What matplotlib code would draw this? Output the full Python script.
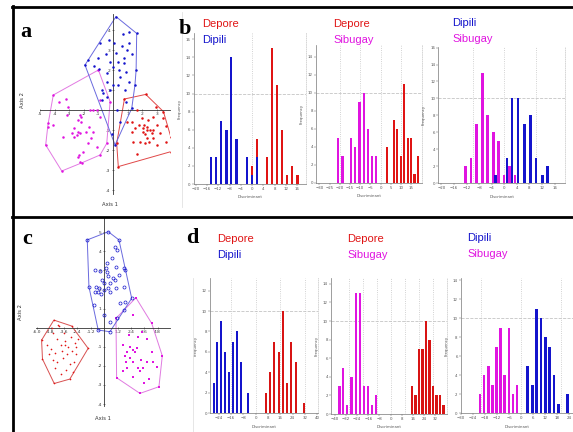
import matplotlib
matplotlib.use('Agg')
import matplotlib.pyplot as plt
from matplotlib.lines import Line2D

W, H = 573, 432

# ---------------- panel a : canonical scores ----------------
a_dipili = [(0.2, 4.67), (1.62, 3.83), (-1.92, 2.25), (0.14, -1.75), (1.58, 2.0), (1.5, 1.25),
            (-0.89, 3.33), (0.09, 3.33), (1.12, 3.33), (0.94, 3.0), (0.23, 2.83), (0.78, 2.58),
            (-1.0, 2.58), (-1.69, 2.5), (-0.2, 2.42), (0.36, 2.42), (0.78, 2.33), (0.02, 2.17),
            (0.41, 2.0), (0.87, 1.92), (-0.94, 2.03), (-0.43, 1.83), (0.48, 1.67), (0.02, 1.25),
            (0.32, 1.25), (-0.39, 1.42), (-0.77, 1.0), (-0.2, 1.0), (0.82, 1.0), (-0.43, 0.67),
            (-0.66, 0.83), (0.25, 0.0), (1.28, 0.08), (-0.77, 0.5), (0.7, 3.8), (-0.3, 3.5),
            (1.3, 2.8), (0.6, 3.2), (-0.5, 2.8), (1.1, 1.4), (0.9, 0.4), (-0.1, -1.2),
            (1.1, 3.9), (-1.3, 2.2), (0.5, -0.6)]
a_depore = [(0.78, 0.55), (2.24, 0.78), (2.95, 0.13), (3.45, -0.08), (3.95, -1.33), (3.97, -2.08),
            (0.36, -2.83), (0.25, -1.67), (1.62, 0.0), (0.94, -0.58), (1.96, -0.42), (2.12, -0.75),
            (2.3, -0.83), (1.78, -0.75), (2.53, -1.0), (2.76, -1.0), (2.99, -0.75), (3.63, -0.8),
            (3.45, -0.42), (2.07, -1.08), (1.5, -0.92), (1.28, -1.08), (1.85, -1.58), (2.19, -1.67),
            (2.46, -1.58), (2.76, -1.42), (3.22, -1.17), (3.6, -1.58), (2.99, -1.75), (1.67, -2.2),
            (2.3, -1.42), (1.39, -1.58), (2.65, -1.17), (2.03, -0.92), (2.42, -0.5), (2.76, -0.33),
            (1.28, -0.58), (2.2, -1.2), (2.35, -1.0)]
a_sibugay = [(-1.0, 2.0), (-0.2, 0.42), (-0.43, -1.67), (-0.89, -2.25), (-3.51, -3.05), (-4.61, -1.75),
             (-4.09, 0.75), (-3.68, 0.38), (-3.22, 0.55), (-3.06, 0.13), (-4.43, -0.63), (-4.47, -0.83),
             (-4.09, -0.75), (-1.58, 0.0), (-1.35, 0.0), (-2.26, -0.25), (-2.17, -0.33), (-2.4, -0.5),
             (-2.21, -0.58), (-2.67, -0.88), (-2.4, -1.08), (-2.26, -1.17), (-2.49, -1.25), (-1.85, -1.08),
             (-1.63, -0.83), (-1.35, -1.08), (-1.51, -1.42), (-1.74, -1.67), (-3.4, -1.33), (-2.67, -1.33),
             (-2.33, -2.25), (-2.42, -2.33), (-2.03, -2.08), (-2.26, -2.58), (-2.1, -2.63), (-1.08, 0.0),
             (-0.89, 0.5), (-0.89, -0.33), (-2.83, -1.17), (-3.17, -0.25), (-1.12, -1.83)]

# ---------------- panel c : canonical scores ----------------
c_dipili = [(0.37, 5.03), (-1.51, 4.6), (1.33, 4.6), (1.87, 3.02), (2.47, 1.54), (0.52, -0.21),
            (-0.53, -0.12), (-1.36, 2.15), (0.97, 4.25), (1.17, 4.07), (0.75, 3.63), (1.05, 3.2),
            (0.15, 3.15), (-0.82, 3.03), (-0.37, 2.97), (0.28, 2.9), (0.37, 2.72), (0.81, 2.58),
            (1.35, 2.76), (1.77, 3.11), (-0.23, 2.5), (-0.02, 2.33), (0.52, 2.33), (-0.73, 2.15),
            (-0.43, 2.1), (0.31, 2.06), (-0.02, 1.98), (-0.53, 1.89), (-0.32, 1.75), (0.52, 1.85),
            (1.05, 2.1), (1.8, 2.15), (1.41, 1.28), (1.86, 1.37), (-0.9, 1.2), (-0.02, 0.67),
            (0.52, 0.32), (-0.82, 1.89), (0.97, 2.5), (0.22, 3.37), (1.75, 0.94), (1.15, 0.5)]
c_depore = [(-4.5, 0.4), (-2.91, 0.09), (-1.43, -1.08), (-3.07, -2.69), (-4.47, -2.92), (-5.52, -1.64),
            (-5.6, -0.65), (-4.71, -0.03), (-4.11, 0.12), (-4.2, -0.6), (-3.9, -0.9), (-3.5, -0.7),
            (-3.0, -0.5), (-2.6, -0.8), (-2.3, -0.6), (-4.8, -1.1), (-4.4, -1.3), (-3.8, -1.2),
            (-3.3, -1.4), (-2.9, -1.2), (-2.5, -1.4), (-4.6, -1.7), (-4.2, -1.8), (-3.7, -1.6),
            (-3.1, -1.9), (-2.7, -1.8), (-4.4, -2.1), (-3.4, -2.2), (-2.8, -2.3), (-4.9, -1.4),
            (-3.6, -0.3), (-4.0, 0.1), (-2.5, -1.0), (-3.2, -1.0), (-4.6, -0.3), (-3.9, -2.4),
            (-3.5, -0.9), (-5.1, -0.9)]
c_sibugay = [(2.85, 1.57), (4.26, 0.23), (5.21, -1.47), (4.91, -3.09), (3.21, -3.44), (1.12, -2.62),
             (1.06, 0.49), (2.61, 0.67), (2.31, -1.0), (2.61, -1.15), (2.91, -1.07), (2.01, -1.25),
             (1.86, -1.48), (3.8, -0.6), (4.26, -1.25), (4.71, -2.08), (3.5, -2.13), (2.99, -2.13),
             (2.61, -1.77), (1.95, -1.77), (1.65, -2.28), (2.55, -2.57), (3.21, -2.28), (3.8, -1.77),
             (4.4, -1.77), (2.76, -1.28), (2.07, -2.1), (3.4, -0.2), (2.2, -0.4), (1.7, -0.9),
             (3.0, -0.5), (4.0, -2.7), (3.6, -2.9), (2.3, -1.6), (3.3, -1.7)]

# ---------------- histograms (bin centre, frequency) ----------------
b1_depore_x = [0.0, 1.8, 5.4, 7.2, 8.9, 10.8, 12.5, 14.3, 16.2]
b1_depore_n = [2, 5, 3, 15, 11, 6, 1, 2, 1]
b1_dipili_x = [-14.6, -12.8, -11.0, -9.1, -7.4, -5.5, -1.9, 0.0, 1.8]
b1_dipili_n = [3, 3, 7, 6, 14, 5, 3, 1, 3]

b2_sibugay_x = [-20.8, -18.7, -14.6, -12.5, -10.3, -8.2, -6.2, -4.1, -2.1]
b2_sibugay_n = [5, 3, 5, 4, 9, 10, 6, 3, 3]
b2_depore_x = [3.1, 6.6, 8.2, 10.0, 11.6, 13.4, 15.1, 16.7, 18.5]
b2_depore_n = [4, 7, 6, 3, 11, 5, 5, 1, 3]

b3_sibugay_x = [-12.3, -10.6, -8.8, -7.0, -5.3, -3.5, -1.9, -0.1, 1.6, 3.4]
b3_sibugay_n = [2, 3, 7, 13, 8, 6, 5, 1, 2, 1]
b3_dipili_x = [-2.75, 0.85, 2.5, 4.4, 6.4, 8.4, 10.1, 12.1, 13.8]
b3_dipili_n = [1, 3, 10, 10, 7, 8, 3, 1, 2]

d1_dipili_x = [-27.3, -24.9, -22.3, -19.9, -17.3, -14.9, -12.3, -9.7, -4.8]
d1_dipili_n = [3, 7, 9, 6, 4, 7, 8, 5, 2]
d1_depore_x = [6.5, 9.3, 12.1, 15.2, 17.7, 20.6, 23.2, 26.2, 31.6]
d1_depore_n = [2, 4, 7, 6, 10, 3, 7, 5, 1]

d2_sibugay_x = [-36.6, -34.0, -31.1, -28.0, -24.9, -22.1, -19.2, -16.2, -13.3, -10.5]
d2_sibugay_n = [3, 5, 1, 4, 13, 13, 3, 3, 1, 2]
d2_depore_x = [15.2, 17.8, 20.4, 22.8, 25.4, 27.8, 30.4, 32.8, 35.4, 37.8]
d2_depore_n = [3, 2, 7, 7, 10, 8, 3, 2, 2, 1]

d3_sibugay_x = [-20.5, -18.5, -16.3, -14.3, -12.3, -10.3, -8.3, -6.2, -4.2, -2.2]
d3_sibugay_n = [2, 4, 5, 3, 7, 9, 4, 9, 2, 3]
d3_dipili_x = [3.3, 5.7, 7.8, 10.0, 12.2, 14.3, 16.5, 18.7, 23.2]
d3_dipili_n = [5, 3, 11, 10, 8, 7, 4, 1, 2]

RED = '#e01414'
BLUE = '#1414cc'
MAG = '#e014e0'
TITLE_FONT = ['Liberation Sans', 'DejaVu Sans']

fig = plt.figure(figsize=(W / 100, H / 100), dpi=100)


def ax_px(left, top, right, bottom):
    return fig.add_axes([left / W, 1 - bottom / H, (right - left) / W, (bottom - top) / H])


def hull(pts):
    p = sorted(set(pts))
    def cross(o, a, b):
        return (a[0] - o[0]) * (b[1] - o[1]) - (a[1] - o[1]) * (b[0] - o[0])
    lo, up = [], []
    for q in p:
        while len(lo) >= 2 and cross(lo[-2], lo[-1], q) <= 0:
            lo.pop()
        lo.append(q)
    for q in reversed(p):
        while len(up) >= 2 and cross(up[-2], up[-1], q) <= 0:
            up.pop()
        up.append(q)
    h = lo[:-1] + up[:-1]
    return h + [h[0]]


def scatter_panel(rect, xlim, ylim, xticks, yticks, fmt, groups, lab2, lab1):
    ax = ax_px(*rect)
    for pts, col, lcol, mk in groups:
        h = hull(pts)
        ax.plot([q[0] for q in h], [q[1] for q in h], color=lcol, lw=0.7, zorder=2)
        ax.plot([q[0] for q in pts], [q[1] for q in pts], ls='none', zorder=3, **mk)
    ax.set_xlim(*xlim)
    ax.set_ylim(*ylim)
    for s in ['top', 'right']:
        ax.spines[s].set_visible(False)
    for s in ['left', 'bottom']:
        ax.spines[s].set_position(('data', 0))
        ax.spines[s].set_linewidth(0.6)
        ax.spines[s].set_color('#333333')
    ax.set_xticks(xticks)
    ax.set_xticklabels([fmt.format(t) for t in xticks])
    ax.set_yticks(yticks)
    ax.set_yticklabels(['{:d}'.format(t) for t in yticks])
    ax.tick_params(labelsize=3.2, length=1.5, width=0.4, pad=1, colors='#333333', direction='inout')
    ax.patch.set_alpha(0)
    fig.text(*lab2, 'Axis 2', fontsize=3.8, rotation=90, ha='center', va='center', color='#333333')
    fig.text(*lab1, 'Axis 1', fontsize=3.8, ha='center', va='center', color='#333333')
    return ax


def hist_panel(rect, xlim, ylim, xticks, yticks, gridx, series, wpx):
    ax = ax_px(*rect)
    ppu = (rect[2] - rect[0]) / (xlim[1] - xlim[0])
    for xs, ns, col in series:
        ax.bar(xs, ns, width=wpx / ppu, color=col, lw=0, zorder=3)
    ax.set_xlim(*xlim)
    ax.set_ylim(*ylim)
    for g in gridx:
        ax.axvline(g, color='#c4c4c4', ls=':', lw=0.6, zorder=0)
    ax.axhline(10, color='#c4c4c4', ls='--', lw=0.6, zorder=0)
    ax.spines['top'].set_visible(False)
    ax.spines['right'].set_color('#d0d0d0')
    ax.spines['right'].set_linestyle(':')
    ax.spines['right'].set_linewidth(0.6)
    for s in ['left', 'bottom']:
        ax.spines[s].set_color('#777777')
        ax.spines[s].set_linewidth(0.5)
    ax.set_xticks(xticks)
    ax.set_yticks(yticks)
    ax.tick_params(labelsize=2.8, length=1.2, width=0.3, pad=1, colors='#555555')
    ax.set_xlabel('Discriminant', fontsize=2.8, labelpad=3, color='#555555')
    ax.set_ylabel('Frequency', fontsize=2.8, labelpad=3, color='#555555')
    return ax


def titles(x, y, first, second):
    fig.text(x / W, 1 - y / H, first[0], color=first[1], fontsize=8, family=TITLE_FONT, va='center')
    fig.text(x / W, 1 - (y + 16) / H, second[0], color=second[1], fontsize=8, family=TITLE_FONT, va='center')


# frame lines
for (x0, y0, x1, y1) in [(12, 7, 573, 7), (12, 216.5, 573, 216.5), (12.5, 6, 12.5, 432)]:
    fig.add_artist(Line2D([x0 / W, x1 / W], [1 - y0 / H, 1 - y1 / H], color='black', lw=2.0))
for (x0, y0, x1, y1) in [(182, 12, 182, 207), (193, 278, 193, 432)]:
    fig.add_artist(Line2D([x0 / W, x1 / W], [1 - y0 / H, 1 - y1 / H], color='#e2e2e2', lw=0.6))

# panel a
scatter_panel((40, 14, 170, 194), (-5.0, 3.9), (-4.2, 4.8),
              [-5, -4, -3, -2, -1, 1, 2, 3], [-4, -3, -2, -1, 1, 2, 3, 4], '{:d}',
              [(a_sibugay, MAG, '#e27ae2', dict(marker='o', ms=1.8, color=MAG, mew=0)),
               (a_depore, RED, '#e04848', dict(marker='o', ms=1.8, color=RED, mew=0)),
               (a_dipili, BLUE, '#6a6ade', dict(marker='o', ms=1.8, color=BLUE, mew=0))],
              (22 / W, 1 - 100 / H), (110 / W, 1 - 204 / H))

# panel c
scatter_panel((36, 217, 170, 406), (-6.1, 5.9), (-4.1, 5.8),
              [-6.0, -4.8, -3.6, -2.4, -1.2, 1.2, 2.4, 3.6, 4.8], [-4, -3, -2, -1, 1, 2, 3, 4, 5], '{:.1f}',
              [(c_depore, RED, '#d85050', dict(marker='o', ms=1.2, color=RED, mew=0)),
               (c_sibugay, MAG, '#e07ae0', dict(marker='s', ms=1.8, color=MAG, mew=0)),
               (c_dipili, BLUE, '#6a6ade', dict(marker='o', ms=2.2, mfc='none', mec=BLUE, mew=0.5))],
              (20 / W, 1 - 312 / H), (103 / W, 1 - 419 / H))

# panel b histograms
hist_panel((193.5, 33, 306, 184), (-20.8, 19.2), (0, 16.7), range(-20, 17, 4), range(0, 17, 2),
           [0], [(b1_depore_x, b1_depore_n, RED), (b1_dipili_x, b1_dipili_n, BLUE)], 2.2)
hist_panel((316, 45, 422.3, 182.7), (-31.7, 20.5), (0, 15.3), range(-30, 16, 5), range(0, 15, 2),
           [-20, -10, 0, 10], [(b2_sibugay_x, b2_sibugay_n, MAG), (b2_depore_x, b2_depore_n, RED)], 2.3)
hist_panel((438.3, 46.7, 565, 183.3), (-21, 19.3), (0, 16.1), range(-20, 17, 4), range(0, 17, 2),
           [-10, 0, 10], [(b3_sibugay_x, b3_sibugay_n, MAG), (b3_dipili_x, b3_dipili_n, BLUE)], 2.6)

# panel d histograms
hist_panel((210, 278.3, 318.3, 413.3), (-29.7, 40.7), (0, 13.2), range(-24, 41, 8), range(0, 13, 2),
           [-16, 0, 16, 32], [(d1_dipili_x, d1_dipili_n, BLUE), (d1_depore_x, d1_depore_n, '#d81414')], 2.2)
hist_panel((331, 278.3, 446.6, 414), (-42.6, 40.0), (0, 14.6), range(-40, 33, 8), range(0, 15, 2),
           [-30, -20, -10, 0, 10, 20, 30], [(d2_sibugay_x, d2_sibugay_n, MAG), (d2_depore_x, d2_depore_n, '#d81414')], 2.3)
hist_panel((460.7, 278.3, 573, 413.3), (-30.2, 26), (0, 14.2), range(-30, 25, 6), range(0, 15, 2),
           [-20, 0, 20], [(d3_sibugay_x, d3_sibugay_n, MAG), (d3_dipili_x, d3_dipili_n, BLUE)], 2.3)

# titles
titles(202, 24, ('Depore', RED), ('Dipili', BLUE))
titles(333, 24, ('Depore', RED), ('Sibugay', MAG))
titles(452, 23, ('Dipili', BLUE), ('Sibugay', MAG))
titles(217, 239, ('Depore', RED), ('Dipili', BLUE))
titles(347, 239, ('Depore', RED), ('Sibugay', MAG))
titles(467, 238, ('Dipili', BLUE), ('Sibugay', MAG))

# panel letters
for lbl, x, y in [('a', 26, 32), ('b', 185, 29), ('c', 27, 239), ('d', 192, 238)]:
    fig.text(x / W, 1 - y / H, lbl, fontsize=16, fontweight='bold', family='Liberation Serif',
             ha='center', va='center')

fig.savefig('out.png', dpi=100)
